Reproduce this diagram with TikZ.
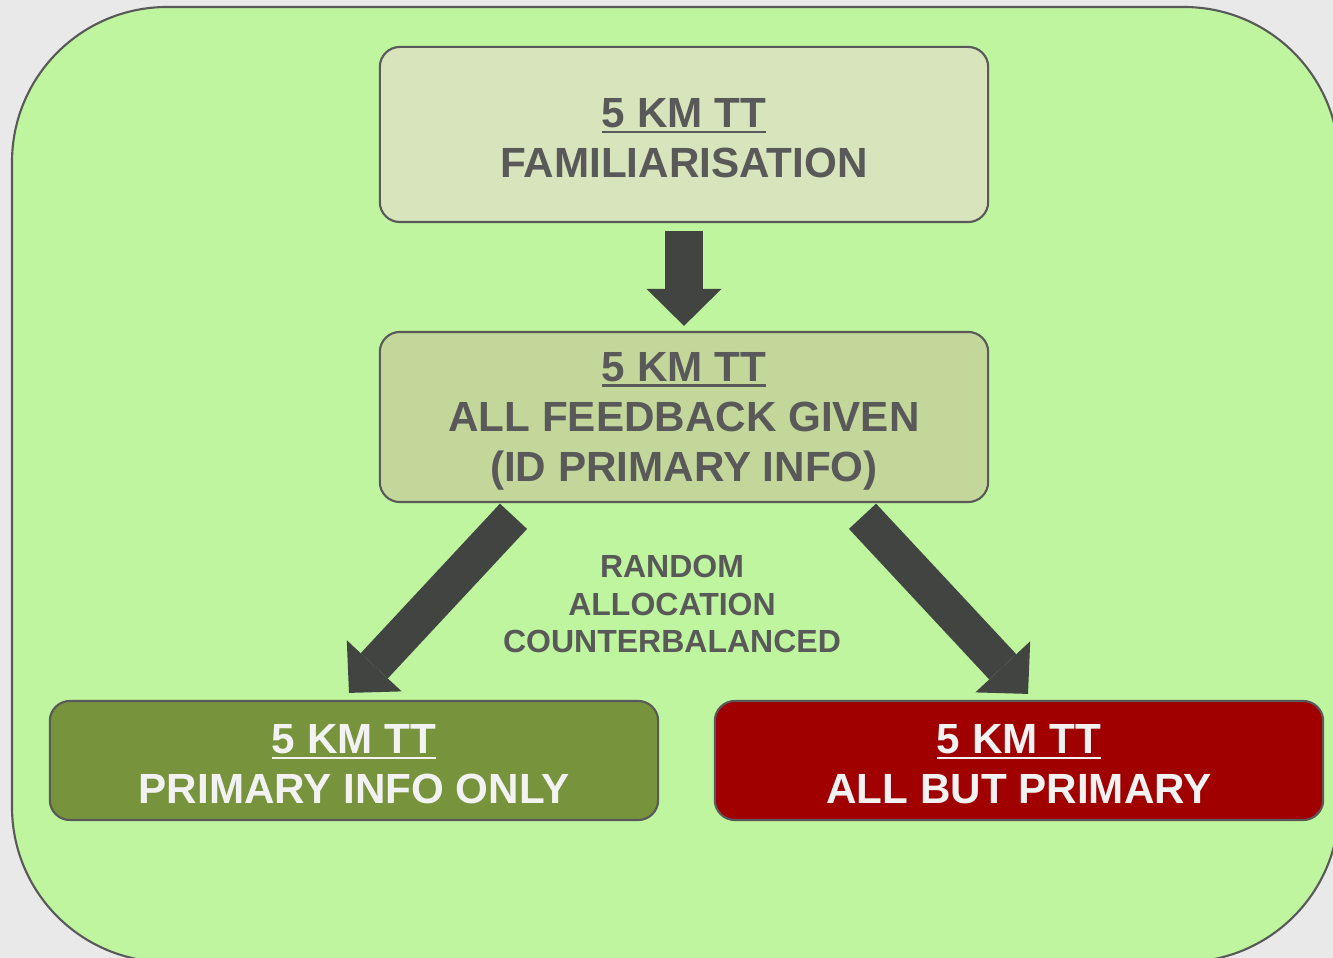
\documentclass[tikz,border=0pt]{standalone}
\usepackage{fontspec}
\setmainfont{Liberation Sans}
\usetikzlibrary{arrows.meta,calc}
\definecolor{pagegray}{RGB}{233,233,233}
\definecolor{paneltint}{RGB}{191,245,159}
\definecolor{framegray}{RGB}{89,89,89}
\definecolor{famfill}{RGB}{216,228,188}
\definecolor{allfill}{RGB}{196,215,155}
\definecolor{primgreen}{RGB}{119,147,60}
\definecolor{butred}{RGB}{160,0,0}
\definecolor{arrowgray}{RGB}{66,68,66}
\definecolor{lighttext}{RGB}{242,242,242}

% underlined heading line (with a little extra room above it)
\newcommand{\ulword}[1]{\rule{0pt}{10.6pt}\setbox0\hbox{#1}\rlap{\rule[-1.5pt]{\wd0}{0.7pt}}\box0}

\begin{document}
\begin{tikzpicture}[x=0.01cm,y=-0.01cm, every node/.style={font=\bfseries\fontsize{12}{14.2}\selectfont}]
    % Styles
    \tikzset{panel/.style    ={fill=paneltint,draw=framegray,line width=0.6pt,rounded corners=1.55cm}}
    \tikzset{stage/.style    ={draw=framegray,line width=0.6pt,rounded corners=0.2cm,minimum width=6.08cm,inner sep=0pt,align=center}}
    \tikzset{darktext/.style ={text=framegray}}
    \tikzset{lighttxt/.style ={text=lighttext}}
    \tikzset{blockarrow/.style={draw=arrowgray,line width=0.37cm,-{Triangle[width=0.75cm,length=0.37cm,line width=0pt]}}}
    \tikzset{note/.style     ={text=framegray,align=center,font=\bfseries\fontsize{9.1}{10.8}\selectfont}}

    % Canvas
    \useasboundingbox (0,0) rectangle (1333,958);
    \fill[pagegray] (0,0) rectangle (1333,958);
    \clip (0,0) rectangle (1333,958);
    \draw[panel] (12,7) rectangle (1339,962);

    % Stages
    \node[stage,darktext,fill=famfill,minimum height=1.75cm]   (famil)    at (684,134.5) {\ulword{5 KM TT}\\FAMILIARISATION};
    \node[stage,darktext,fill=allfill,minimum height=1.70cm]   (allfb)    at (684,417)   {\ulword{5 KM TT}\\ALL FEEDBACK GIVEN\\(ID PRIMARY INFO)};
    \node[stage,lighttxt,fill=primgreen,minimum height=1.19cm] (primary)  at (354,760.5) {\ulword{5 KM TT}\\PRIMARY INFO ONLY};
    \node[stage,lighttxt,fill=butred,minimum height=1.19cm]    (allbut)   at (1019,760.5){\ulword{5 KM TT}\\ALL BUT PRIMARY};

    \node[note] (alloc) at (672,604) {RANDOM\\ALLOCATION\\COUNTERBALANCED};

    % Arrows
    \draw[blockarrow,shorten <=0.08cm,shorten >=0.05cm] (famil) -- (allfb);
    \draw[blockarrow,shorten <=0.18cm] ($(allfb.south west)+(147,0)$) -- ($(primary.north)+(-5,-7)$);
    \draw[blockarrow,shorten <=0.18cm] ($(allfb.south east)+(-139,0)$) -- ($(allbut.north)+(9,-6)$);
\end{tikzpicture}
\end{document}
